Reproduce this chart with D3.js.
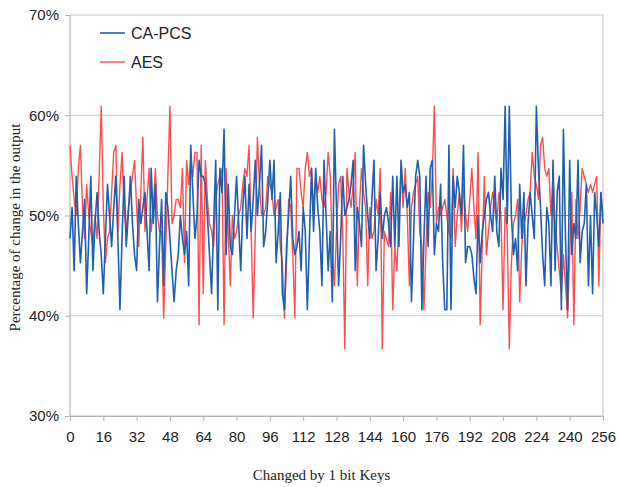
<!DOCTYPE html>
<html>
<head>
<meta charset="utf-8">
<script src="https://cdn.jsdelivr.net/npm/d3@7"></script>
<style>
  body { margin: 0; background: #fff; }
  #chart { width: 618px; height: 487px; }
  .tick text { font-family: "Liberation Sans", Arial, sans-serif; font-size: 15px; fill: #222; }
</style>
</head>
<body>
<div id="chart"></div>
<script>
// x positions: keys 0..256
const xTicks = [0, 16, 32, 48, 64, 80, 96, 112, 128, 144, 160, 176, 192, 208, 224, 240, 256];
const yTicks = [30, 40, 50, 60, 70];
const seriesNames = ['CA-PCS', 'AES'];

// CA-PCS, % of output bits changed, key 0..256
const caPcs = [
  47.7, 50.8, 44.5, 53.9, 49.2, 45.3, 48.4, 51.6, 42.2, 47.7,
  53.9, 44.5, 49.2, 52.3, 48.4, 46.1, 42.2, 47.7, 53.1, 50.0,
  46.9, 50.8, 53.9, 47.7, 40.6, 47.7, 53.9, 46.9, 50.0, 53.9,
  49.2, 46.1, 44.5, 51.6, 49.2, 50.8, 52.3, 48.4, 44.5, 54.7,
  49.2, 53.1, 41.4, 46.9, 51.6, 43.0, 52.3, 50.8, 47.7, 44.5,
  41.4, 44.5, 46.1, 50.0, 47.7, 46.1, 48.4, 43.0, 57.0, 52.3,
  47.7, 50.0, 55.5, 53.9, 53.9, 53.1, 50.0, 46.1, 42.2, 49.2,
  55.5, 40.6, 54.7, 52.3, 58.6, 46.1, 53.1, 46.9, 46.1, 50.0,
  53.9, 49.2, 44.5, 50.8, 53.9, 47.7, 53.1, 48.4, 51.6, 55.5,
  50.0, 53.1, 57.0, 46.9, 48.4, 51.6, 55.5, 51.6, 55.5, 45.3,
  48.4, 52.3, 42.2, 40.6, 46.9, 50.0, 53.9, 47.7, 46.1, 46.9,
  48.4, 44.5, 50.8, 48.4, 40.6, 47.7, 54.7, 48.4, 54.7, 50.8,
  48.4, 43.0, 55.5, 50.0, 44.5, 48.4, 41.4, 58.6, 50.8, 43.0,
  47.7, 53.9, 50.0, 50.8, 51.6, 53.1, 55.5, 44.5, 50.8, 49.2,
  46.9, 57.0, 53.1, 50.0, 47.7, 51.6, 55.5, 44.5, 47.7, 52.3,
  47.7, 50.0, 50.8, 49.2, 46.9, 53.9, 46.9, 53.9, 46.9, 55.5,
  52.3, 53.1, 50.8, 52.3, 41.4, 47.7, 53.9, 55.5, 53.9, 40.6,
  47.7, 53.9, 46.9, 54.7, 55.5, 46.1, 49.2, 48.4, 53.1, 45.3,
  40.6, 40.6, 57.0, 40.6, 53.9, 50.8, 53.9, 52.3, 50.0, 57.0,
  45.3, 46.9, 46.9, 46.1, 43.8, 42.2, 50.0, 45.3, 48.4, 50.0,
  51.6, 52.3, 50.0, 48.4, 53.9, 48.4, 46.9, 54.7, 51.6, 60.9,
  49.2, 60.9, 50.0, 46.1, 47.7, 44.5, 53.1, 47.7, 52.3, 43.0,
  49.2, 52.3, 50.0, 47.7, 60.9, 54.7, 50.8, 46.1, 43.0, 50.8,
  49.2, 43.0, 55.5, 44.5, 52.3, 53.9, 40.6, 58.6, 47.7, 40.6,
  55.5, 46.1, 49.2, 47.7, 55.5, 45.3, 48.4, 49.2, 53.1, 43.0,
  50.0, 42.2, 52.3, 50.0, 46.9, 52.3, 49.2
];

// AES, % of output bits changed, key 0..256
const aes = [
  57.0, 53.9, 51.6, 50.0, 54.7, 57.0, 50.8, 47.7, 53.1, 50.0,
  48.4, 46.9, 50.0, 47.7, 53.9, 60.9, 50.8, 45.3, 47.7, 48.4,
  52.3, 56.3, 57.0, 48.4, 53.1, 56.3, 50.8, 48.4, 50.8, 52.3,
  53.9, 55.5, 50.8, 46.9, 52.3, 57.8, 48.4, 51.6, 54.7, 48.4,
  50.8, 54.7, 50.0, 48.4, 48.4, 39.8, 46.9, 53.9, 60.9, 49.2,
  50.0, 51.6, 51.6, 50.8, 54.7, 45.3, 55.5, 53.1, 55.5, 53.9,
  56.3, 56.3, 39.1, 57.0, 42.2, 55.5, 51.6, 49.2, 48.4, 46.9,
  51.6, 53.1, 53.9, 54.7, 39.1, 54.7, 48.4, 43.0, 50.0, 47.7,
  48.4, 50.0, 50.8, 53.1, 54.7, 53.9, 57.0, 48.4, 39.8, 48.4,
  57.8, 53.1, 50.0, 50.0, 50.8, 53.9, 53.1, 52.3, 50.0, 50.8,
  51.6, 46.9, 45.3, 39.8, 45.3, 51.6, 50.8, 46.1, 39.8, 54.7,
  54.7, 52.3, 50.8, 54.7, 56.3, 53.9, 54.7, 50.8, 53.9, 52.3,
  53.9, 51.6, 50.8, 52.3, 56.3, 53.9, 46.1, 43.0, 48.4, 53.1,
  53.9, 48.4, 36.7, 54.7, 52.3, 50.8, 53.1, 56.3, 43.0, 50.8,
  54.7, 52.3, 50.8, 43.0, 50.8, 47.7, 48.4, 51.6, 50.0, 54.7,
  36.7, 48.4, 47.7, 46.9, 52.3, 40.6, 46.9, 44.5, 50.0, 54.7,
  50.8, 54.7, 50.0, 43.0, 50.8, 52.3, 53.1, 53.9, 48.4, 46.9,
  40.6, 46.9, 52.3, 50.8, 53.9, 60.9, 49.2, 50.8, 50.0, 50.8,
  51.6, 50.0, 48.4, 47.7, 54.7, 46.9, 50.0, 52.3, 48.4, 53.1,
  50.0, 48.4, 51.6, 54.7, 50.8, 47.7, 56.3, 39.1, 46.9, 53.9,
  46.1, 48.4, 50.8, 52.3, 50.8, 49.2, 52.3, 50.0, 40.6, 50.8,
  48.4, 36.7, 45.3, 49.2, 50.0, 51.6, 41.4, 46.9, 49.2, 50.0,
  51.6, 52.3, 56.3, 53.9, 53.1, 51.6, 57.0, 57.8, 54.7, 53.9,
  54.7, 50.0, 53.9, 49.2, 46.9, 44.5, 42.2, 46.1, 43.0, 39.8,
  46.1, 52.3, 39.1, 51.6, 47.7, 50.8, 54.7, 53.9, 53.1, 52.3,
  53.1, 52.3, 53.1, 53.9, 43.0, 52.3, 50.0
];

const W = 618, H = 487;
const M = { t: 15, r: 15, b: 71, l: 70 };
const C = { blue: '#1f5fae', red: '#ff4d4d', grid: '#c8c8c8', axis: '#b3b3b3' };

const svg = d3.select('#chart').append('svg')
  .attr('width', W)
  .attr('height', H)
  .style('display', 'block');

const x = d3.scaleLinear().domain([0, 256]).range([M.l, W - M.r]);
const y = d3.scaleLinear().domain([30, 70]).range([H - M.b, M.t]);

// horizontal gridlines
svg.append('g')
  .selectAll('line')
  .data(yTicks)
  .enter().append('line')
  .attr('x1', M.l).attr('x2', W - M.r)
  .attr('y1', d => y(d)).attr('y2', d => y(d))
  .attr('stroke', d => d === 50 ? '#8c8c8c' : C.grid)
  .attr('stroke-width', 1.2);

// frame sides
svg.append('line')
  .attr('x1', M.l).attr('x2', M.l)
  .attr('y1', M.t).attr('y2', H - M.b)
  .attr('stroke', C.axis).attr('stroke-width', 1.2);
svg.append('line')
  .attr('x1', W - M.r).attr('x2', W - M.r)
  .attr('y1', M.t).attr('y2', H - M.b)
  .attr('stroke', C.grid).attr('stroke-width', 1.2);

const xAxis = svg.append('g')
  .attr('transform', `translate(0,${H - M.b})`)
  .call(d3.axisBottom(x).tickValues(xTicks).tickSize(5).tickPadding(10));
xAxis.select('.domain').attr('stroke', C.axis);
xAxis.selectAll('.tick line').attr('stroke', C.axis);

const yAxis = svg.append('g')
  .attr('transform', `translate(${M.l},0)`)
  .call(d3.axisLeft(y).tickValues(yTicks).tickSize(5).tickPadding(6).tickFormat(d => d + '%'));
yAxis.select('.domain').remove();
yAxis.selectAll('.tick line').attr('stroke', C.axis);

const line = d3.line()
  .x((d, i) => x(i))
  .y(d => y(d));

svg.append('path')
  .datum(aes)
  .attr('fill', 'none')
  .attr('stroke', C.red)
  .attr('stroke-width', 1.4)
  .attr('stroke-linejoin', 'round')
  .attr('d', line);

svg.append('path')
  .datum(caPcs)
  .attr('fill', 'none')
  .attr('stroke', C.blue)
  .attr('stroke-width', 1.6)
  .attr('stroke-linejoin', 'round')
  .attr('d', line);

// legend
const legend = svg.append('g').attr('transform', 'translate(100,33)');
[C.blue, C.red].forEach((col, i) => {
  const g = legend.append('g').attr('transform', `translate(0,${i * 29})`);
  g.append('line')
    .attr('x1', 0).attr('x2', 25)
    .attr('stroke', col).attr('stroke-width', i ? 1.4 : 1.6);
  g.append('text')
    .attr('x', 31).attr('y', 5.5)
    .style('font-family', '"Liberation Sans", Arial, sans-serif')
    .style('font-size', '16px')
    .style('fill', '#222')
    .text(seriesNames[i]);
});

// axis titles
svg.append('text')
  .attr('x', (M.l + W - M.r) / 2 - 15)
  .attr('y', 480)
  .attr('text-anchor', 'middle')
  .style('font-family', '"Liberation Serif", "Times New Roman", serif')
  .style('font-size', '15px')
  .style('fill', '#222')
  .text('Changed by 1 bit Keys');

svg.append('text')
  .attr('transform', `translate(20,${(M.t + H - M.b) / 2 + 12}) rotate(-90)`)
  .attr('text-anchor', 'middle')
  .style('font-family', '"Liberation Serif", "Times New Roman", serif')
  .style('font-size', '15px')
  .style('fill', '#222')
  .text('Percentage of change in the output');
</script>
</body>
</html>
